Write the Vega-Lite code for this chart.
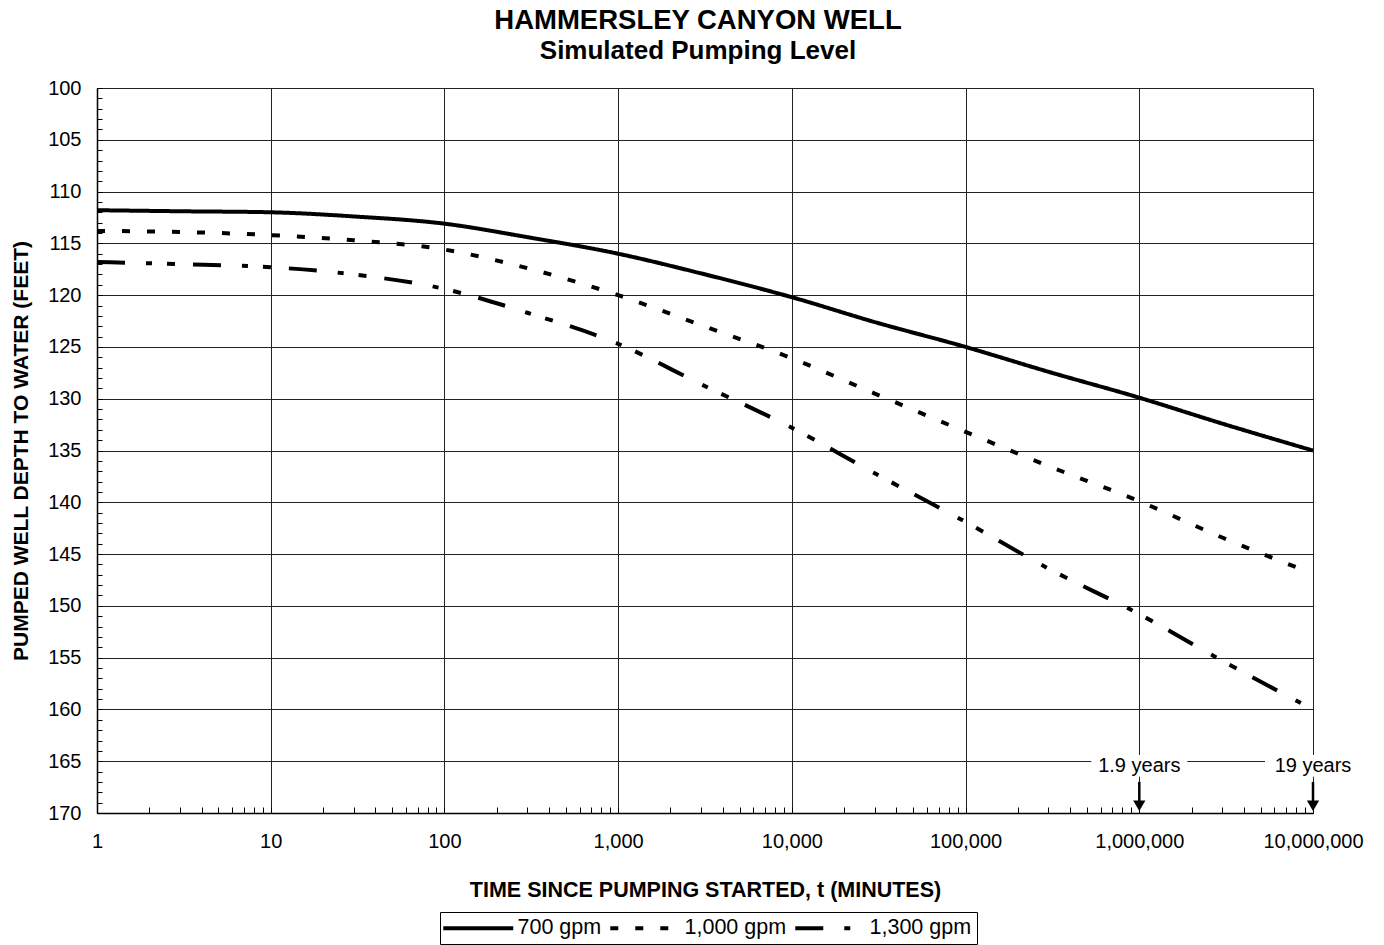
{
  "$schema": "https://vega.github.io/schema/vega-lite/v6.json",
  "width": 1216,
  "height": 725,
  "autosize": {"type": "none"},
  "padding": {"left": 97, "top": 88, "right": 71, "bottom": 132},
  "background": "white",
  "view": {"stroke": null},
  "title": {
    "text": "HAMMERSLEY CANYON WELL",
    "subtitle": "Simulated Pumping Level",
    "font": "Liberation Sans",
    "fontSize": 27.5,
    "fontWeight": "bold",
    "color": "black",
    "subtitleFont": "Liberation Sans",
    "subtitleFontSize": 26,
    "subtitleFontWeight": "bold",
    "subtitleColor": "black",
    "subtitlePadding": 4,
    "anchor": "middle",
    "frame": "group",
    "dx": -7,
    "offset": 14
  },
  "resolve": {"axis": {"x": "independent", "y": "independent"}},
  "layer": [
    {
      "data": {
        "values": [
          {"t": 1, "depth": 111.8, "series": "700 gpm"},
          {"t": 3, "depth": 111.9, "series": "700 gpm"},
          {"t": 10, "depth": 112.0, "series": "700 gpm"},
          {"t": 30, "depth": 112.4, "series": "700 gpm"},
          {"t": 100, "depth": 113.1, "series": "700 gpm"},
          {"t": 300, "depth": 114.4, "series": "700 gpm"},
          {"t": 1000, "depth": 116.0, "series": "700 gpm"},
          {"t": 3000, "depth": 117.9, "series": "700 gpm"},
          {"t": 10000, "depth": 120.2, "series": "700 gpm"},
          {"t": 30000, "depth": 122.6, "series": "700 gpm"},
          {"t": 100000, "depth": 125.0, "series": "700 gpm"},
          {"t": 300000, "depth": 127.4, "series": "700 gpm"},
          {"t": 1000000, "depth": 129.9, "series": "700 gpm"},
          {"t": 3000000, "depth": 132.4, "series": "700 gpm"},
          {"t": 10000000, "depth": 135.0, "series": "700 gpm"},
          {"t": 1, "depth": 113.8, "series": "1,000 gpm"},
          {"t": 3, "depth": 113.9, "series": "1,000 gpm"},
          {"t": 10, "depth": 114.2, "series": "1,000 gpm"},
          {"t": 30, "depth": 114.7, "series": "1,000 gpm"},
          {"t": 100, "depth": 115.6, "series": "1,000 gpm"},
          {"t": 300, "depth": 117.4, "series": "1,000 gpm"},
          {"t": 1000, "depth": 120.0, "series": "1,000 gpm"},
          {"t": 3000, "depth": 122.9, "series": "1,000 gpm"},
          {"t": 10000, "depth": 126.1, "series": "1,000 gpm"},
          {"t": 30000, "depth": 129.5, "series": "1,000 gpm"},
          {"t": 100000, "depth": 133.2, "series": "1,000 gpm"},
          {"t": 300000, "depth": 136.5, "series": "1,000 gpm"},
          {"t": 1000000, "depth": 139.9, "series": "1,000 gpm"},
          {"t": 3000000, "depth": 143.4, "series": "1,000 gpm"},
          {"t": 9000000, "depth": 146.6, "series": "1,000 gpm"},
          {"t": 1, "depth": 116.8, "series": "1,300 gpm"},
          {"t": 3, "depth": 117.0, "series": "1,300 gpm"},
          {"t": 10, "depth": 117.3, "series": "1,300 gpm"},
          {"t": 30, "depth": 118.0, "series": "1,300 gpm"},
          {"t": 100, "depth": 119.4, "series": "1,300 gpm"},
          {"t": 300, "depth": 121.7, "series": "1,300 gpm"},
          {"t": 1000, "depth": 124.7, "series": "1,300 gpm"},
          {"t": 3000, "depth": 128.6, "series": "1,300 gpm"},
          {"t": 10000, "depth": 132.8, "series": "1,300 gpm"},
          {"t": 30000, "depth": 137.2, "series": "1,300 gpm"},
          {"t": 100000, "depth": 141.9, "series": "1,300 gpm"},
          {"t": 300000, "depth": 146.4, "series": "1,300 gpm"},
          {"t": 1000000, "depth": 150.8, "series": "1,300 gpm"},
          {"t": 3000000, "depth": 155.3, "series": "1,300 gpm"},
          {"t": 9000000, "depth": 159.6, "series": "1,300 gpm"}
        ]
      },
      "mark": {"type": "line", "color": "black", "strokeWidth": 4, "interpolate": "monotone"},
      "encoding": {
        "x": {
          "field": "t",
          "type": "quantitative",
          "scale": {"type": "log", "domain": [1, 10000000], "nice": false},
          "axis": {
            "orient": "bottom",
            "title": "TIME SINCE PUMPING STARTED, t (MINUTES)",
            "titleFont": "Liberation Sans",
            "titleFontSize": 21.5,
            "titleFontWeight": "bold",
            "titleColor": "black",
            "titleY": 83,
            "titleBaseline": "alphabetic",
            "values": [1,2,3,4,5,6,7,8,9,10,20,30,40,50,60,70,80,90,100,200,300,400,500,600,700,800,900,1000,2000,3000,4000,5000,6000,7000,8000,9000,10000,20000,30000,40000,50000,60000,70000,80000,90000,100000,200000,300000,400000,500000,600000,700000,800000,900000,1000000,2000000,3000000,4000000,5000000,6000000,7000000,8000000,9000000,10000000],
            "labelExpr": "abs(log(datum.value)/LN10 - round(log(datum.value)/LN10)) < 0.001 ? format(datum.value, ',') : ''",
            "labelFont": "Liberation Sans",
            "labelFontSize": 20,
            "labelColor": "black",
            "labelPadding": 24,
            "labelFlush": false,
            "labelOverlap": false,
            "grid": true,
            "gridColor": "#222222",
            "gridWidth": 1,
            "gridOpacity": {"condition": {"test": "abs(log(datum.value)/LN10 - round(log(datum.value)/LN10)) < 0.001", "value": 1}, "value": 0},
            "tickSize": -6,
            "tickColor": "black",
            "tickWidth": 1,
            "domainColor": "black",
            "domainWidth": 1.5
          }
        },
        "y": {
          "field": "depth",
          "type": "quantitative",
          "scale": {"domain": [100, 170], "reverse": true, "nice": false, "zero": false},
          "axis": {
            "orient": "left",
            "title": "PUMPED WELL DEPTH TO WATER (FEET)",
            "titleFont": "Liberation Sans",
            "titleFontSize": 21,
            "titleFontWeight": "bold",
            "titleColor": "black",
            "titleX": -70,
            "titleY": 362.5,
            "titleBaseline": "alphabetic",
            "titleAngle": -90,
            "values": [100,101,102,103,104,105,106,107,108,109,110,111,112,113,114,115,116,117,118,119,120,121,122,123,124,125,126,127,128,129,130,131,132,133,134,135,136,137,138,139,140,141,142,143,144,145,146,147,148,149,150,151,152,153,154,155,156,157,158,159,160,161,162,163,164,165,166,167,168,169,170],
            "labelExpr": "datum.value % 5 === 0 ? format(datum.value, 'd') : ''",
            "labelFont": "Liberation Sans",
            "labelFontSize": 20,
            "labelColor": "black",
            "labelPadding": 21,
            "labelFlush": false,
            "labelOverlap": false,
            "grid": true,
            "gridColor": "#222222",
            "gridWidth": 1,
            "gridOpacity": {"condition": {"test": "datum.value % 5 === 0", "value": 1}, "value": 0},
            "tickSize": -5,
            "tickColor": "black",
            "tickWidth": 1,
            "domainColor": "black",
            "domainWidth": 1.5
          }
        },
        "strokeDash": {
          "field": "series",
          "type": "nominal",
          "scale": {
            "domain": ["700 gpm", "1,000 gpm", "1,300 gpm"],
            "range": [[1, 0], [8, 17], [28, 21, 6, 15, 8, 18]]
          },
          "legend": {
            "orient": "none",
            "legendX": 343,
            "legendY": 824,
            "direction": "horizontal",
            "title": null,
            "symbolType": "M-2.08,0H9.58",
            "symbolSize": 144,
            "symbolStrokeWidth": 4,
            "symbolStrokeColor": "black",
            "labelFont": "Liberation Sans",
            "labelFontSize": 21.5,
            "labelColor": "black",
            "labelOffset": 51,
            "columnPadding": 0,
            "strokeColor": "black",
            "fillColor": "white",
            "padding": 5
          }
        }
      }
    },
    {
      "data": {"values": [{"t": 1000000, "label": "1.9 years"}, {"t": 10000000, "label": "19 years"}]},
      "mark": {"type": "rect", "fill": "white", "width": 96},
      "encoding": {
        "x": {"field": "t", "type": "quantitative", "axis": null},
        "y": {"datum": 164.4, "type": "quantitative", "axis": null},
        "y2": {"datum": 166.5}
      }
    },
    {
      "data": {"values": [{"t": 1000000, "label": "1.9 years"}, {"t": 10000000, "label": "19 years"}]},
      "mark": {"type": "text", "font": "Liberation Sans", "fontSize": 20, "color": "black", "align": "center", "baseline": "alphabetic"},
      "encoding": {
        "x": {"field": "t", "type": "quantitative", "axis": null},
        "y": {"datum": 166.05, "type": "quantitative", "axis": null},
        "text": {"field": "label"}
      }
    },
    {
      "data": {"values": [{"t": 1000000, "label": "1.9 years"}, {"t": 10000000, "label": "19 years"}]},
      "mark": {"type": "rule", "color": "black", "strokeWidth": 2.5},
      "encoding": {
        "x": {"field": "t", "type": "quantitative", "axis": null},
        "y": {"datum": 167.0, "type": "quantitative", "axis": null},
        "y2": {"datum": 168.9}
      }
    },
    {
      "data": {"values": [{"t": 1000000, "label": "1.9 years"}, {"t": 10000000, "label": "19 years"}]},
      "mark": {"type": "point", "shape": "triangle-down", "filled": true, "color": "black", "opacity": 1, "size": 150},
      "encoding": {
        "x": {"field": "t", "type": "quantitative", "axis": null},
        "y": {"datum": 169.3, "type": "quantitative", "axis": null}
      }
    }
  ]
}
